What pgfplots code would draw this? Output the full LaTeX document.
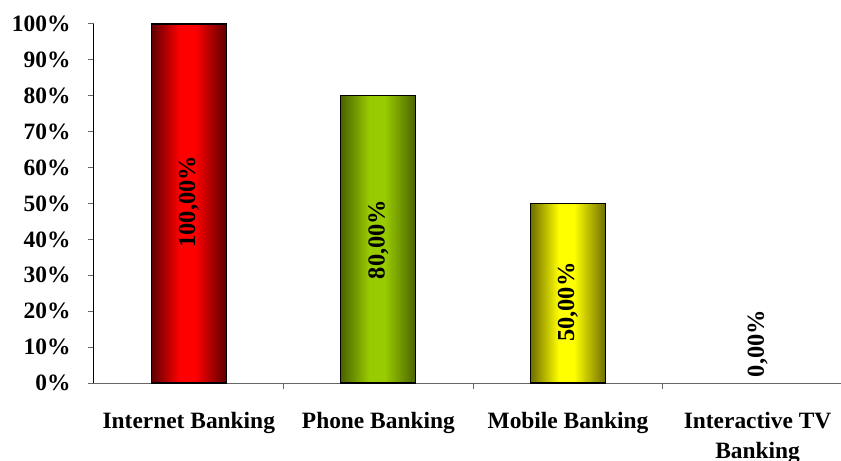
\documentclass[border=0pt]{standalone}
\usepackage{pgfplots}
\pgfplotsset{compat=1.18}
\usepackage{pgfplotstable}
\usepackage{fontspec}
\setmainfont{Liberation Serif}

% cylinder-like horizontal gradients for the bars
\definecolor{rdark}{HTML}{5E0000}
\definecolor{rbright}{HTML}{FF0000}
\definecolor{gdark}{HTML}{4A6300}
\definecolor{gbright}{HTML}{99CC00}
\definecolor{ydark}{HTML}{6E6E00}
\definecolor{ybright}{HTML}{FFFF00}
\pgfdeclarehorizontalshading{redcyl}{100bp}{color(0bp)=(rdark); color(25bp)=(rdark); color(44bp)=(rbright); color(54bp)=(rbright); color(75bp)=(rdark); color(100bp)=(rdark)}
\pgfdeclarehorizontalshading{greencyl}{100bp}{color(0bp)=(gdark); color(25bp)=(gdark); color(44bp)=(gbright); color(54bp)=(gbright); color(75bp)=(gdark); color(100bp)=(gdark)}
\pgfdeclarehorizontalshading{yellowcyl}{100bp}{color(0bp)=(ydark); color(25bp)=(ydark); color(44bp)=(ybright); color(54bp)=(ybright); color(75bp)=(ydark); color(100bp)=(ydark)}

% share of banks offering each channel; lpos = height of the value label
\pgfplotstableread{
x  share  lpos
0  100    50.5
1  80     40
2  50     22.5
3  0      11
}\channels

\begin{document}
\begin{tikzpicture}
\begin{axis}[
  name=ax,
  scale only axis,
  width=747bp, height=359bp,
  xmin=-0.5, xmax=3.44,
  ymin=0, ymax=100,
  axis x line*=bottom,
  axis y line*=left,
  x axis line style={draw=gray!80!black, line width=1bp, -},
  y axis line style={draw=black, line width=1bp, -},
  font=\fontsize{23.5}{30}\selectfont\bfseries,
  ytick={0,10,...,100},
  yticklabel={\pgfmathprintnumber[assume math mode=true]{\tick}\%},
  yticklabel style={xshift=-14bp},
  ytick style={draw=gray!80!black, line width=1bp},
  tick align=outside,
  major tick length=6bp,
  xtick={0,1,2,3},
  xticklabels={Internet Banking, Phone Banking, Mobile Banking, {Interactive TV\\Banking}},
  xticklabel style={align=center, yshift=-20bp},
  xtick style={draw=none},
  extra x ticks={0.5,1.5,2.5},
  extra x tick labels={},
  extra x tick style={xtick style={draw=gray!80!black, line width=1bp}},
  clip=false,
]
\addplot[ybar, bar width=75bp, bar shift=0pt, draw=black, line width=1.2bp, shading=redcyl]
  table[x=x, y=share, restrict expr to domain={\thisrow{x}}{0:0}] {\channels};
\addplot[ybar, bar width=75bp, bar shift=0pt, draw=black, line width=1.2bp, shading=greencyl]
  table[x=x, y=share, restrict expr to domain={\thisrow{x}}{1:1}] {\channels};
\addplot[ybar, bar width=75bp, bar shift=0pt, draw=black, line width=1.2bp, shading=yellowcyl]
  table[x=x, y=share, restrict expr to domain={\thisrow{x}}{2:2}] {\channels};
% value labels, set vertically inside the bars
\addplot[only marks, mark=none,
  point meta=explicit,
  nodes near coords={\pgfmathprintnumber[fixed, fixed zerofill, precision=2, use comma, assume math mode=true]{\pgfplotspointmeta}\%},
  every node near coord/.append style={anchor=center, rotate=90, inner sep=0pt, font=\fontsize{24.5}{28}\selectfont\bfseries},
] table[x=x, y=lpos, meta=share] {\channels};
\end{axis}
\pgfresetboundingbox
\path[use as bounding box] ([xshift=-94bp,yshift=-78bp]ax.south west) rectangle ([yshift=24bp]ax.north east);
\end{tikzpicture}
\end{document}
